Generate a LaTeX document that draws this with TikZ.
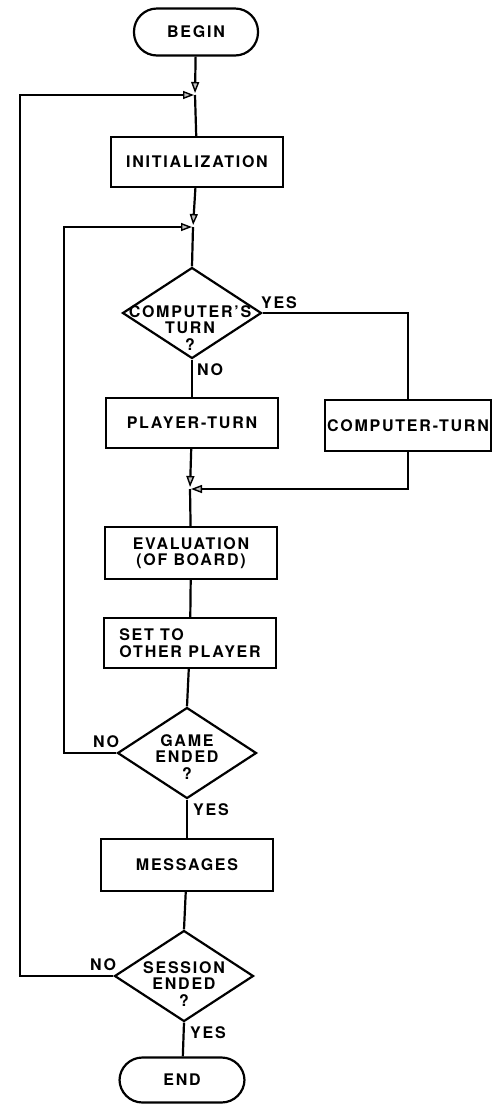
\documentclass[tikz,border=0pt]{standalone}
\usepackage{fontspec}
\setmainfont{TeX Gyre Heros}[LetterSpace=11]
\usetikzlibrary{shapes.geometric,arrows.meta}
\begin{document}
\begin{tikzpicture}[x=1pt,y=-1pt, line width=2.2pt,
  every node/.style={font=\bfseries\fontsize{16}{16.5}\selectfont, inner sep=0pt},
  box/.style={draw, rectangle, minimum width=172pt, minimum height=50pt, align=center},
  term/.style={draw, rectangle, rounded corners=23pt, minimum width=124pt, minimum height=47pt},
  dec/.style={draw, diamond, minimum width=139pt, minimum height=91pt},
  txt/.style={align=center},
  arr/.style={-{Triangle[length=11pt,width=8pt,fill=gray!50,line width=1.4pt]}},
]
\useasboundingbox (0,0) rectangle (492,1104);

% nodes
\node[term] (begin) at (196,32) {BEGIN};
\coordinate (j1) at (195,95);
\node[box] (init) at (197,162) {INITIALIZATION};
\coordinate (j2) at (193,227);
\node[dec] (d1) at (192,313) {};
\node[txt] (d1t) at (190,328) {COMPUTER'S\\TURN\\?};
\node[box, minimum width=166pt, minimum height=51pt] (comp) at (408,425.5) {COMPUTER-TURN};
\node[box] (player) at (192,423) {PLAYER-TURN};
\coordinate (j3) at (190,489);
\node[box, minimum height=52pt] (eval) at (191,553) {EVALUATION\\(OF BOARD)};
\node[box, align=left] (set) at (190,643) {SET TO\\OTHER PLAYER};
\node[dec] (d2) at (187,753) {};
\node[txt] (d2t) at (187,757) {GAME\\ENDED\\?};
\node[box, minimum height=52pt] (msg) at (187,865) {MESSAGES};
\node[dec] (d3) at (184,976) {};
\node[txt] (d3t) at (184,984) {SESSION\\ENDED\\?};
\node[term, minimum width=125pt, minimum height=45pt] (end) at (182,1080) {END};

\coordinate (l1) at (20,95);
\coordinate (l2) at (64,227);

% labels
\node (yes1) at (279,303) {YES};
\node (no1) at (210,370) {NO};
\node (no2) at (106,742) {NO};
\node (yes2) at (211,810) {YES};
\node (no3) at (103,965) {NO};
\node (yes3) at (208,1033) {YES};

% connectors
\draw[arr, shorten >=2pt] (begin) -- (j1);
\draw (j1) -- (init);
\draw[arr, shorten >=2pt] (init) -- (j2);
\draw (j2) -- (d1.north);
\draw (d1.south) -- (player.north);
\draw (d1.east) -| (comp.north);
\draw[arr, shorten >=2pt] (player) -- (j3);
\draw[arr, shorten >=1pt] (comp.south) |- (j3);
\draw (j3) -- (eval);
\draw (eval) -- (set);
\draw (set) -- (d2.north);
\draw (d2.south) -- (msg);
\draw (msg) -- (d3.north);
\draw (d3.south) -- (end);
\draw[arr, shorten >=1pt] (d2.west) -| (l2) -- (j2);
\draw[arr, shorten >=1pt] (d3.west) -| (l1) -- (j1);
\end{tikzpicture}
\end{document}
